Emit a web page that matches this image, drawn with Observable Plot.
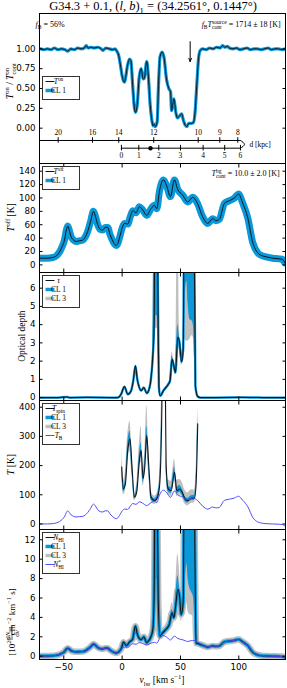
<!DOCTYPE html>
<html><head><meta charset="utf-8">
<script src="https://cdn.jsdelivr.net/npm/d3@7"></script>
<script src="https://cdn.jsdelivr.net/npm/@observablehq/plot@0.6"></script>
<style>
body{margin:0;background:#fff;}
#chart{position:relative;width:287px;}
#chart svg{display:block;overflow:visible;}
</style></head><body><div id="chart"></div><script>
// ---------------- data ----------------
const xTicks = [-50, 0, 50, 100];

// Panel 1: T_on / T_on_cont
const vOn = [-70,-67,-64,-61,-58,-55,-52,-49,-46.5,-44,-41,-38,-35,-32.5,-30.8,-29,-27,-24,-21,-18,-16.5,-14,-11,-8,-6,-4.5,-3,-1.5,0,1,2,3,4.5,6.3,7.5,9,10.5,11.5,13,14.5,16.3,18,19,21.1,22.5,24,25.5,26.5,27.5,28.5,30,31.2,32.5,34.3,36,38,40,41.5,42.4,43.4,44.4,46,47.3,49,51,52.5,54,55.5,57,59,61,62.5,64,65.5,67,69,72,75,78,81,84,86,88,90,92,95,98,101,104,107,110,113,116,119,122,125,128,131,134,137,140];
const tOn = [1.00,0.99,1.00,0.99,1.01,0.99,1.00,0.99,0.97,1.00,0.99,1.01,1.00,1.01,1.04,1.01,1.02,1.01,1.02,1.00,0.98,1.01,1.00,0.99,1.00,0.97,0.92,0.80,0.66,0.60,0.58,0.64,0.78,0.87,0.85,0.55,0.26,0.20,0.30,0.62,0.75,0.62,0.63,0.84,0.65,0.30,0.10,0.03,0.05,0.02,0.08,0.55,0.90,0.96,0.88,0.62,0.50,0.46,0.22,0.30,0.37,0.20,0.13,0.15,0.18,0.10,0.04,0.02,0.06,0.06,0.07,0.20,0.55,0.88,0.98,1.00,0.99,1.01,1.00,1.02,1.01,1.04,1.02,1.03,1.01,1.00,1.01,0.99,1.00,1.01,0.99,1.00,1.00,0.99,1.00,1.01,0.99,1.00,1.00,0.99,1.00];
const arrowV = [58.3], arrowFrom = [1.09], arrowTo = [0.84];

// distance axis (kpc -> v_lsr position)
const distFarKpc = [20, 16, 14, 12, 10, 9, 8];
const distFarV = [-54.8, -25.4, -2.9, 27.1, 65.2, 83.7, 99.1];
const distNearKpc = [0, 1, 2, 3, 4, 5, 6];
const distNearV = [-0.6, 14.3, 31.4, 50.0, 69.4, 87.9, 101.4];
const sourceV = [24.3];
const tangentV = 104.8;

// Panel 2: T_off, Panel 4: T_B, Panel 5: N*_HI (emission grid)
const vS = [-70,-64,-59.5,-56,-53.7,-51.5,-49.4,-47.8,-46.6,-45,-43.7,-41.5,-39.4,-36.5,-33.7,-31.5,-29.5,-27,-24.6,-22.8,-20.9,-18.7,-16.6,-14.5,-12.3,-10.5,-8.6,-6.8,-5.1,-3.7,-2.3,0,2,4.8,7,9.1,11.9,14.8,17.7,21.1,24.8,27.7,29.7,32,35.4,38.2,41.4,44.8,47.6,52,56.2,60.5,64.8,69,73.4,77.6,80.5,83.3,87.7,92,96.3,99.7,103.4,107.7,112,116.2,119.5,123.4,129,134.7,137.5,139.5];
const tOff = [10,10,11,14,19,27,37,52,58,50,42,37,35,36,37,42,50,65,80,72,60,53,52,56,56,46,38,32,29,32,40,55,62,61,72,81,78,87,82,74,84,89,84,110,127,118,102,127,113,104,94,101,91,72,62,69,66,68,92,96,100,106,92,70,33,18,14,12,10,9,8,3];
const tB = [0,0,1,4,8,15,25,39,45,38,31,26,24,25,26,31,39,53,68,61,49,42,41,45,45,35,27,21,18,21,29,44,51,50,61,70,67,76,71,63,73,78,73,99,116,107,91,113,100,92,83,89,80,61,51,58,55,57,81,85,89,95,81,59,22,7,3,1,0,-1,-2,-7];
const nStar = [0.02,0.02,0.05,0.1,0.18,0.3,0.48,0.72,0.82,0.7,0.57,0.48,0.45,0.46,0.48,0.57,0.72,0.97,1.25,1.12,0.9,0.78,0.76,0.83,0.83,0.65,0.5,0.39,0.33,0.39,0.53,0.8,0.95,0.93,1.12,1.28,1.23,1.4,1.3,1.16,1.34,1.43,1.34,1.82,2.12,1.96,1.67,2.07,1.83,1.69,1.52,1.63,1.47,1.12,0.94,1.06,1.01,1.05,1.48,1.56,1.63,1.74,1.48,1.08,0.4,0.13,0.05,0.02,0,-0.02,-0.04,-0.13];

// Panel 3: optical depth
const vTau = [-70,-55,-47,-45,-30,-10,-3.8,-0.9,2,4.8,7.7,9.5,11.4,13,14.3,16.3,18.6,21.1,22.8,24.3,26.3,27.4,28.3,29.8,30.9,31.5,32.5,33.5,35.4,37.5,39.6,41,42.8,44.3,45.7,47.7,49,51,52.4,53.3,55.5,58,61.3,62.8,64.8,67,80,100,120,140];
const tau = [0,0,0.03,0,0.01,0,0,0.18,0.6,0.18,0.38,0.9,1.74,1.0,0.64,0.38,0.55,0.24,0.4,0.82,2.3,4,12,12,4,0.6,0.1,0.15,0.38,0.55,0.73,0.9,2.1,1.74,1.37,3.3,3.1,1.96,2.75,12,12,12,12,0.63,0.06,0,0,0.01,0,0];
const tauBandV = [24.3,26.3,27.4,28.3,29.8,30.9,31.5,32.5,35.4,39.6,41,42.8,44.3,45.7,47.7,49,51,52.4,53.3,54.5,55.5,56.5,58,60,61.3,62.8,64.8];
const tauLo1 = [0.78,2.2,3.7,4.5,4.5,3.7,0.57,0.1,0.36,0.7,0.86,2.0,1.65,1.3,3.05,2.85,1.85,2.6,4.0,6.0,6.4,5.2,4.3,4.2,3.8,0.6,0.05];
const tauHi1 = [0.86,2.45,12,12,12,12,0.64,0.11,0.4,0.77,0.95,2.3,1.85,1.45,4.0,3.4,2.1,3.0,12,12,12,12,12,12,12,0.66,0.07];
const tauLo3 = [0.74,2.1,3.3,3.8,3.8,3.3,0.54,0.09,0.34,0.67,0.82,1.9,1.55,1.25,2.8,2.6,1.75,2.4,3.3,3.1,3.1,3.1,3.2,3.4,3.2,0.57,0.05];
const tauHi3 = [0.9,2.6,12,12,12,12,0.68,0.12,0.42,0.8,1.0,2.5,2.0,1.6,12,4.1,2.4,3.4,12,12,12,12,12,12,12,0.7,0.07];

// Panel 4: spin temperature
const vSpin = [-0.3,1.1,2.8,4.8,6.8,8.5,10.5,12.5,14.8,16.3,18,19.4,21.1,22.9,24.8,27.7,29.7,32,33.7,34.9,36.6,37.8,39.5,42.1,44.9,46.9,49.2,51.5,53.8,56.3,59.2,62,63.4,64.8];
const tSpin = [195,120,137,252,292,195,92,109,218,252,155,195,303,195,92,80,86,126,309,600,600,195,120,114,177,114,120,109,86,80,88,89,137,343];
const spinHi1 = [215,130,150,275,318,212,98,118,238,278,168,212,335,212,100,86,93,140,345,600,600,215,131,125,195,125,132,120,95,88,97,98,152,385];
const spinLo1 = [178,110,125,232,268,180,86,100,200,230,143,180,276,180,85,74,80,114,280,600,600,178,110,104,162,104,109,99,78,72,80,81,124,308];
const spinHi3 = [262,150,178,305,352,248,108,136,280,335,192,248,405,248,113,96,103,162,420,600,600,252,152,146,222,150,152,142,116,106,117,116,178,415];
const spinLo3 = [160,100,110,208,248,163,80,92,183,212,130,163,252,163,78,67,72,104,258,600,600,163,99,94,148,94,99,90,68,62,70,72,112,288];

// Panel 5: column density
const vN = [-70,-64,-59.5,-56,-53.7,-51.5,-49.4,-47.8,-46.6,-45,-43.7,-41.5,-39.4,-36.5,-33.7,-31.5,-29.5,-27,-24.6,-22.8,-20.9,-18.7,-16.6,-14.5,-12.3,-10.5,-8.6,-6.8,-5.1,-3.7,-2.3,-0.5,1.1,3.7,6.6,9,11.4,13,14.3,16.3,18.6,21.1,22.8,24.3,26.3,27.4,28.3,29.8,30.9,32.4,34.7,37.5,40.4,42.8,44.3,45.7,47.7,49.2,50.6,52.4,53.3,55.5,58,61.3,63.4,64.8,69,73.4,77.6,80.5,83.3,87.7,92,96.3,99.7,103.4,107.7,112,116.2,119.5,123.4,129,134.7,137.5,139.5];
const nHI = [0.02,0.02,0.05,0.1,0.18,0.3,0.48,0.72,0.82,0.7,0.57,0.48,0.45,0.46,0.48,0.57,0.72,0.97,1.25,1.12,0.9,0.78,0.76,0.83,0.83,0.65,0.5,0.39,0.33,0.39,0.53,0.85,1.45,1.1,1.5,1.75,3.1,2.3,1.9,1.7,2.0,1.4,1.6,1.9,2.75,6,20,20,6,2.07,2.4,2.75,3.27,4.47,3.97,5.0,6.9,6.2,4.3,5.7,20,20,20,20,1.37,1.3,1.12,0.94,1.06,1.01,1.05,1.48,1.56,1.63,1.74,1.48,1.08,0.4,0.13,0.05,0.02,0,-0.02,-0.04,-0.13];
const nBandV = [24.3,26.3,27.4,28.3,29.8,30.9,32.4,34.7,37.5,40.4,42.8,44.3,45.7,47.7,49.2,50.6,52.4,53.3,54.5,55.5,56.5,58,60,61.3,63.4,64.8];
const nLo1 = [1.8,2.6,5.6,8,8,5.6,1.95,2.25,2.6,3.1,4.2,3.75,4.7,6.3,5.8,4.05,5.3,7,8.5,9.5,8,7,6.5,6,1.3,1.15];
const nHi1 = [2.0,2.9,20,20,20,20,2.2,2.55,2.9,3.5,4.8,4.25,5.6,8.3,7.0,4.7,6.3,20,20,20,20,20,20,20,1.45,1.25];
const nLo3 = [1.6,2.4,5,6,6,5,1.8,2.1,2.4,2.8,3.8,3.4,4.2,5.4,5.0,3.6,4.5,5.2,5.5,5.5,4.6,4.3,4.2,4.0,1.2,1.05];
const nHi3 = [2.2,3.2,20,20,20,20,2.4,2.8,3.3,4.0,5.5,5.0,6.6,10.5,8.8,5.8,7.8,20,20,20,20,20,20,20,1.6,1.4];

// ---------------- styles ----------------
const SERIF = "'Liberation Serif','DejaVu Serif',serif";
const SANS = "'DejaVu Sans',sans-serif";
const C_LINE = "#0d1620", C_CL1 = "#0a98d8", C_CL3 = "#c0c0c0", C_TB = "#4d4dff";
const X_DOMAIN = [-70.8, 140];
const CURVE = "monotone-x";

const xy = (xs, ys) => xs.map((v, i) => ({v, y: ys[i]}));
const band = (xs, lo, hi) => xs.map((v, i) => ({v, lo: lo[i], hi: hi[i]}));

const chart = document.getElementById("chart");

function rich(parent, x, y, parts, opt = {}) {
  const size = opt.size || 8;
  const g = d3.select(parent).append("g")
    .attr("transform", `translate(${x},${y})${opt.rotate ? ` rotate(${opt.rotate})` : ""}`);
  const text = g.append("text").attr("font-family", opt.family || SERIF)
    .attr("font-size", size).attr("fill", opt.fill || "#000").attr("y", size * 0.34);
  let pend = 0;
  const add = (s, attrs) => {
    const ts = text.append("tspan").text(s);
    for (const k in attrs) ts.attr(k, attrs[k]);
    if (pend) { ts.attr("dx", (attrs.dx || 0) + pend); pend = 0; }
    return ts;
  };
  for (const p of parts) {
    if (typeof p === "string") { add(p, {}); continue; }
    if (p.t != null) add(p.t, p.i ? {"font-style": "italic"} : {});
    if (p.sup != null || p.sub != null) {
      let ls = 0, lb = 0;
      if (p.sup != null) {
        const s = add(p.sup, {"font-size": size * 0.7, "baseline-shift": size * 0.4});
        ls = s.node().getComputedTextLength();
      }
      if (p.sub != null) {
        const at = {"font-size": size * 0.7, "baseline-shift": -size * 0.28};
        if (p.sup != null) at.dx = -ls;
        const s = add(p.sub, at);
        lb = s.node().getComputedTextLength();
      }
      if (p.sup != null && p.sub != null && ls > lb) pend = ls - lb;
    }
  }
  const bb = text.node().getBBox();
  const a = opt.anchor || "start";
  text.attr("x", a === "middle" ? -(bb.x + bb.width / 2) : a === "end" ? -(bb.x + bb.width) : 0);
  return g;
}

function legend(svg, top, entries) {
  const g = d3.select(svg).append("g");
  const h = entries.length * 9 + 5;
  g.append("rect").attr("x", 42.5).attr("y", top + 0.5).attr("width", 37).attr("height", h)
    .attr("fill", "#fff").attr("stroke", "#333").attr("stroke-width", 1);
  entries.forEach((e, i) => {
    const cy = top + 5.5 + i * 9;
    g.append("line").attr("x1", 45.5).attr("x2", 54.5).attr("y1", cy).attr("y2", cy)
      .attr("stroke", e.color).attr("stroke-width", e.w);
    rich(g.node(), 58.5, cy, e.parts, {size: 7.5});
  });
}

function makePlot({height, marginBottom = 0, yDomain, yTicks, yFormat, xAxis = true, xLabels = false, marks}) {
  const axes = [
    Plot.frame({stroke: "#000", strokeWidth: 1}),
    Plot.axisY(yTicks, {anchor: "left", tickSize: -3.5, tickPadding: 7.5, tickFormat: yFormat, label: null}),
    Plot.axisY(yTicks, {anchor: "right", tickSize: -3.5, tickFormat: () => "", label: null})
  ];
  if (xAxis) {
    axes.push(Plot.axisX(xTicks, {anchor: "top", tickSize: -3.5, tickFormat: () => "", label: null}));
    axes.push(Plot.axisX(xTicks, {anchor: "bottom", tickSize: -3.5, tickPadding: 7.5,
      tickFormat: xLabels ? (d => d < 0 ? "\u2212" + (-d) : String(d)) : () => "", label: null}));
  }
  const svg = Plot.plot({
    width: 287, height, marginLeft: 39, marginRight: 2, marginTop: 0, marginBottom,
    x: xAxis ? {domain: X_DOMAIN} : {domain: X_DOMAIN, axis: null},
    y: {domain: yDomain},
    style: {fontFamily: SANS, fontSize: "8.7px", overflow: "visible", background: "none", color: "#000"},
    marks: [...marks, ...axes]
  });
  chart.appendChild(svg);
  return svg;
}

// ---------------- title ----------------
const titleSvg = d3.select(chart).append("svg").attr("width", 287).attr("height", 13).node();
rich(titleSvg, 153, 6, ["G34.3 + 0.1, (", {t: "l", i: true}, ", ", {t: "b", i: true}, ")", {sub: "1"}, " = (34.2561\u00b0, 0.1447\u00b0)"], {size: 12.5, anchor: "middle"});

// ---------------- panel 1 ----------------
const FAR_Y = -0.155, NEAR_Y = -0.252, MID_Y = -0.2035, FAR_LABEL_Y = -0.055, NEAR_LABEL_Y = -0.34, TICK_H = 0.035;
const onRows = xy(vOn, tOn);
const p1 = makePlot({
  height: 150, yDomain: [-0.445, 1.445], yTicks: [0, 0.25, 0.5, 0.75, 1.0], yFormat: d3.format(".2f"), xAxis: false,
  marks: [
    Plot.line(onRows, {x: "v", y: "y", stroke: C_CL1, strokeWidth: 3.2, curve: CURVE, clip: true}),
    Plot.line(onRows, {x: "v", y: "y", stroke: C_LINE, strokeWidth: 1, curve: CURVE, clip: true}),
    Plot.arrow(arrowV.map((v, i) => ({v, a: arrowFrom[i], b: arrowTo[i]})), {x1: "v", y1: "a", x2: "v", y2: "b", stroke: "#000", strokeWidth: 1, headLength: 5, headAngle: 45}),
    // distance axis
    Plot.ruleY([FAR_Y], {x1: X_DOMAIN[0], x2: distNearV[distNearV.length - 1], stroke: "#000", strokeWidth: 1}),
    Plot.ruleY([NEAR_Y], {x1: distNearV[0], x2: distNearV[distNearV.length - 1], stroke: "#000", strokeWidth: 1}),
    Plot.line([{v: distNearV[distNearV.length - 1], y: FAR_Y}, {v: tangentV, y: MID_Y}, {v: distNearV[distNearV.length - 1], y: NEAR_Y}], {x: "v", y: "y", curve: "natural", stroke: "#000", strokeWidth: 1}),
    Plot.ruleX(distFarV, {x: d => d, y1: FAR_Y - TICK_H, y2: FAR_Y + TICK_H, stroke: "#000"}),
    Plot.ruleX(distNearV, {x: d => d, y1: NEAR_Y - TICK_H, y2: NEAR_Y + TICK_H, stroke: "#000"}),
    Plot.text(distFarKpc, {x: (d, i) => distFarV[i], y: FAR_LABEL_Y, text: d => String(d), fontFamily: SERIF, fontSize: 7.5}),
    Plot.text(distNearKpc, {x: (d, i) => distNearV[i], y: NEAR_LABEL_Y, text: d => String(d), fontFamily: SERIF, fontSize: 7.5}),
    Plot.dot(sourceV, {x: d => d, y: NEAR_Y, r: 2.2, fill: "#000", stroke: null}),
    Plot.text(["d [kpc]"], {x: tangentV, y: MID_Y, dx: 5, textAnchor: "start", fontFamily: SERIF, fontSize: 7.5})
  ]
});
rich(p1, 50, 11, [{t: "f", i: true}, {sub: "B"}, " = 56%"], {size: 8});
rich(p1, 281, 11, [{t: "f", i: true}, {sub: "B"}, {t: "T", i: true}, {sup: "source", sub: "cont"}, " = 1714 \u00b1 18 [K]"], {size: 8, anchor: "end"});
rich(p1, 10, 68, [{t: "T", i: true}, {sup: "on"}, " / ", {t: "T", i: true}, {sup: "on", sub: "cont"}], {size: 9.5, rotate: -90, anchor: "middle"});
legend(p1, 63, [
  {color: C_LINE, w: 1, parts: [{t: "T", i: true}, {sup: "on"}]},
  {color: C_CL1, w: 3.5, parts: ["CL 1"]}
]);

// ---------------- panel 2 ----------------
const offRows = xy(vS, tOff);
const p2 = makePlot({
  height: 109, yDomain: [-11.4, 151.5], yTicks: [0, 20, 40, 60, 80, 100, 120, 140], yFormat: d => String(d),
  marks: [
    Plot.line(offRows, {x: "v", y: "y", stroke: C_CL1, strokeWidth: 7, strokeLinejoin: "round", curve: CURVE, clip: true}),
    Plot.line(offRows, {x: "v", y: "y", stroke: C_LINE, strokeWidth: 1, curve: CURVE, clip: true})
  ]
});
rich(p2, 280, 10, [{t: "T", i: true}, {sup: "bg", sub: "cont"}, " = 10.0 \u00b1 2.0 [K]"], {size: 8, anchor: "end"});
rich(p2, 11, 54.5, [{t: "T", i: true}, {sup: "off"}, " [K]"], {size: 9.5, rotate: -90, anchor: "middle"});
legend(p2, 3, [
  {color: C_LINE, w: 1, parts: [{t: "T", i: true}, {sup: "off"}]},
  {color: C_CL1, w: 3.5, parts: ["CL 1"]}
]);

// ---------------- panel 3 ----------------
const tauRows = xy(vTau, tau);
const p3 = makePlot({
  height: 128, yDomain: [-0.16, 6.86], yTicks: [0, 1, 2, 3, 4, 5, 6], yFormat: d => String(d),
  marks: [
    Plot.areaY(band(tauBandV, tauLo3, tauHi3), {x: "v", y1: "lo", y2: "hi", fill: C_CL3, curve: CURVE, clip: true}),
    Plot.areaY(band(tauBandV, tauLo1, tauHi1), {x: "v", y1: "lo", y2: "hi", fill: C_CL1, curve: CURVE, clip: true}),
    Plot.line(tauRows, {x: "v", y: "y", stroke: C_CL1, strokeWidth: 2.4, curve: CURVE, clip: true}),
    Plot.line(tauRows, {x: "v", y: "y", stroke: C_LINE, strokeWidth: 1.1, curve: CURVE, clip: true})
  ]
});
rich(p3, 22, 64, ["Optical depth"], {size: 9.5, rotate: -90, anchor: "middle"});
legend(p3, 3, [
  {color: C_LINE, w: 1, parts: [{t: "\u03c4", i: true}]},
  {color: C_CL1, w: 3.5, parts: ["CL 1"]},
  {color: C_CL3, w: 3.5, parts: ["CL 3"]}
]);

// ---------------- panel 4 ----------------
const spinRows = xy(vSpin, tSpin);
const p4 = makePlot({
  height: 129, yDomain: [-19, 423], yTicks: [0, 100, 200, 300, 400], yFormat: d => String(d),
  marks: [
    Plot.areaY(band(vSpin, spinLo3, spinHi3), {x: "v", y1: "lo", y2: "hi", fill: C_CL3, curve: CURVE, clip: true}),
    Plot.areaY(band(vSpin, spinLo1, spinHi1), {x: "v", y1: "lo", y2: "hi", fill: C_CL1, curve: CURVE, clip: true}),
    Plot.line(spinRows, {x: "v", y: "y", stroke: C_LINE, strokeWidth: 1.1, curve: CURVE, clip: true}),
    Plot.line(xy(vS, tB), {x: "v", y: "y", stroke: C_TB, strokeWidth: 1, curve: CURVE, clip: true})
  ]
});
rich(p4, 11, 64.5, [{t: "T", i: true}, " [K]"], {size: 9.5, rotate: -90, anchor: "middle"});
legend(p4, 3, [
  {color: C_LINE, w: 1, parts: [{t: "T", i: true}, {sub: "spin"}]},
  {color: C_CL1, w: 3.5, parts: ["CL 1"]},
  {color: C_CL3, w: 3.5, parts: ["CL 3"]},
  {color: C_TB, w: 1, parts: [{t: "T", i: true}, {sub: "B"}]}
]);

// ---------------- panel 5 ----------------
const nRows = xy(vN, nHI);
const p5 = makePlot({
  height: 159, marginBottom: 29, yDomain: [-0.34, 13.06], yTicks: [0, 2, 4, 6, 8, 10, 12], yFormat: d => String(d), xLabels: true,
  marks: [
    Plot.line(nRows, {x: "v", y: "y", stroke: C_CL3, strokeWidth: 6.5, strokeLinejoin: "round", curve: CURVE, clip: true}),
    Plot.areaY(band(nBandV, nLo3, nHi3), {x: "v", y1: "lo", y2: "hi", fill: C_CL3, curve: CURVE, clip: true}),
    Plot.line(nRows, {x: "v", y: "y", stroke: C_CL1, strokeWidth: 3.3, strokeLinejoin: "round", curve: CURVE, clip: true}),
    Plot.areaY(band(nBandV, nLo1, nHi1), {x: "v", y1: "lo", y2: "hi", fill: C_CL1, curve: CURVE, clip: true}),
    Plot.line(nRows, {x: "v", y: "y", stroke: C_LINE, strokeWidth: 1.1, curve: CURVE, clip: true}),
    Plot.line(xy(vS, nStar), {x: "v", y: "y", stroke: C_TB, strokeWidth: 1, curve: CURVE, clip: true})
  ]
});
{
  const g = d3.select(p5).append("g").attr("transform", "translate(12,61) rotate(-90)").node();
  rich(g, -43, -4, [{t: "d"}, {t: "N", i: true}, {sub: "HI"}], {size: 7, anchor: "middle"});
  rich(g, -43, 4.2, [{t: "d"}, {t: "v", i: true}], {size: 7, anchor: "middle"});
  d3.select(g).append("line").attr("x1", -50).attr("x2", -36).attr("y1", 0).attr("y2", 0).attr("stroke", "#000").attr("stroke-width", 0.6);
  rich(g, -32, 0, ["[10", {sup: "20"}, " cm", {sup: "\u22122"}, " km", {sup: "\u22121"}, " s]"], {size: 9});
}
rich(p5, 162, 151, [{t: "v", i: true}, {sub: "lsr"}, " [km s", {sup: "\u22121"}, "]"], {size: 9.5, anchor: "middle"});
legend(p5, 3, [
  {color: C_LINE, w: 1, parts: [{t: "N", i: true}, {sub: "HI"}]},
  {color: C_CL1, w: 3.5, parts: ["CL 1"]},
  {color: C_CL3, w: 3.5, parts: ["CL 3"]},
  {color: C_TB, w: 1, parts: [{t: "N", i: true}, {sup: "*", sub: "HI"}]}
]);
</script></body></html>
